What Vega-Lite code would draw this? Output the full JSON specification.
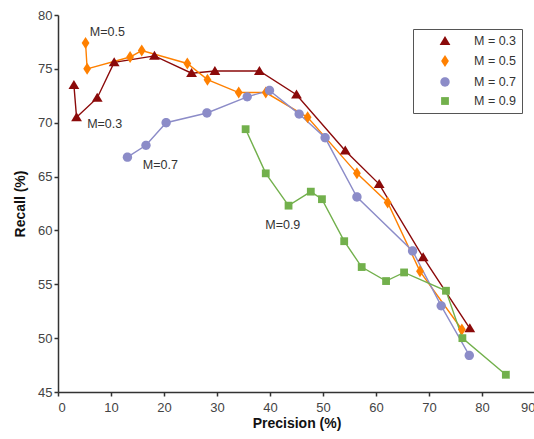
{
  "$schema": "https://vega.github.io/schema/vega-lite/v6.json",
  "width": 477,
  "height": 377,
  "autosize": "none",
  "padding": {"left": 58, "top": 15, "right": 0, "bottom": 47},
  "background": "white",
  "config": {
    "font": "Liberation Sans",
    "view": {"stroke": null},
    "axis": {
      "grid": false,
      "ticks": true,
      "domainColor": "#333",
      "domainWidth": 1.5,
      "tickColor": "#333",
      "tickWidth": 1.5,
      "tickSize": 4,
      "labelColor": "#444",
      "labelFontSize": 13,
      "labelFont": "Liberation Sans",
      "titleFont": "Liberation Sans",
      "titleFontSize": 14,
      "titleFontWeight": "bold",
      "titleColor": "#111"
    }
  },
  "datasets": {
    "pts": [
      {"series": "M = 0.3", "precision": 3.0, "recall": 73.5},
      {"series": "M = 0.3", "precision": 3.5, "recall": 70.5},
      {"series": "M = 0.3", "precision": 7.4, "recall": 72.3},
      {"series": "M = 0.3", "precision": 10.6, "recall": 75.6},
      {"series": "M = 0.3", "precision": 18.2, "recall": 76.2},
      {"series": "M = 0.3", "precision": 25.2, "recall": 74.6},
      {"series": "M = 0.3", "precision": 29.6, "recall": 74.8},
      {"series": "M = 0.3", "precision": 38.0, "recall": 74.8},
      {"series": "M = 0.3", "precision": 45.0, "recall": 72.6},
      {"series": "M = 0.3", "precision": 54.2, "recall": 67.4},
      {"series": "M = 0.3", "precision": 60.6, "recall": 64.3},
      {"series": "M = 0.3", "precision": 68.9, "recall": 57.5},
      {"series": "M = 0.3", "precision": 77.7, "recall": 50.9},
      {"series": "M = 0.5", "precision": 5.2, "recall": 77.4},
      {"series": "M = 0.5", "precision": 5.5, "recall": 75.0},
      {"series": "M = 0.5", "precision": 13.6, "recall": 76.1},
      {"series": "M = 0.5", "precision": 15.8, "recall": 76.7},
      {"series": "M = 0.5", "precision": 24.4, "recall": 75.5},
      {"series": "M = 0.5", "precision": 28.2, "recall": 74.0},
      {"series": "M = 0.5", "precision": 34.1, "recall": 72.8},
      {"series": "M = 0.5", "precision": 39.2, "recall": 72.8},
      {"series": "M = 0.5", "precision": 47.1, "recall": 70.5},
      {"series": "M = 0.5", "precision": 56.4, "recall": 65.3},
      {"series": "M = 0.5", "precision": 62.2, "recall": 62.6},
      {"series": "M = 0.5", "precision": 68.3, "recall": 56.2},
      {"series": "M = 0.5", "precision": 76.2, "recall": 50.8},
      {"series": "M = 0.7", "precision": 13.1, "recall": 66.8},
      {"series": "M = 0.7", "precision": 16.6, "recall": 67.9},
      {"series": "M = 0.7", "precision": 20.4, "recall": 70.0},
      {"series": "M = 0.7", "precision": 28.1, "recall": 70.9},
      {"series": "M = 0.7", "precision": 35.7, "recall": 72.4},
      {"series": "M = 0.7", "precision": 39.9, "recall": 73.0},
      {"series": "M = 0.7", "precision": 45.5, "recall": 70.8},
      {"series": "M = 0.7", "precision": 50.4, "recall": 68.6},
      {"series": "M = 0.7", "precision": 56.4, "recall": 63.1},
      {"series": "M = 0.7", "precision": 66.9, "recall": 58.1},
      {"series": "M = 0.7", "precision": 72.3, "recall": 53.0},
      {"series": "M = 0.7", "precision": 77.6, "recall": 48.4},
      {"series": "M = 0.9", "precision": 35.4, "recall": 69.4},
      {"series": "M = 0.9", "precision": 39.2, "recall": 65.3},
      {"series": "M = 0.9", "precision": 43.5, "recall": 62.3},
      {"series": "M = 0.9", "precision": 47.7, "recall": 63.6},
      {"series": "M = 0.9", "precision": 49.8, "recall": 62.9},
      {"series": "M = 0.9", "precision": 54.0, "recall": 59.0},
      {"series": "M = 0.9", "precision": 57.3, "recall": 56.6},
      {"series": "M = 0.9", "precision": 61.9, "recall": 55.3},
      {"series": "M = 0.9", "precision": 65.3, "recall": 56.1},
      {"series": "M = 0.9", "precision": 73.2, "recall": 54.4},
      {"series": "M = 0.9", "precision": 76.3, "recall": 50.0},
      {"series": "M = 0.9", "precision": 84.5, "recall": 46.6}
    ],
    "notes": [
      {"label": "M=0.5", "precision": 6.0, "recall": 78.4},
      {"label": "M=0.3", "precision": 5.5, "recall": 69.9},
      {"label": "M=0.7", "precision": 16.0, "recall": 66.1},
      {"label": "M=0.9", "precision": 39.1, "recall": 60.5}
    ]
  },
  "layer": [
    {
      "data": {"name": "pts"},
      "mark": {"type": "line", "strokeWidth": 1.4},
      "encoding": {
        "x": {"field": "precision", "type": "quantitative", "scale": {"domain": [0, 90], "nice": false}, "axis": {"values": [0, 10, 20, 30, 40, 50, 60, 70, 80, 90], "title": "Precision (%)", "labelPadding": 5, "titlePadding": 2}},
        "y": {"field": "recall", "type": "quantitative", "scale": {"domain": [45, 80], "nice": false, "zero": false}, "axis": {"values": [45, 50, 55, 60, 65, 70, 75, 80], "title": "Recall (%)", "labelPadding": 2, "titlePadding": 10}},
        "stroke": {
          "field": "series", "type": "nominal", "title": null,
          "scale": {"domain": ["M = 0.3", "M = 0.5", "M = 0.7", "M = 0.9"], "range": ["#8B0A0A", "#FF8000", "#8C8CC8", "#72B04C"]},
          "legend": {
            "orient": "none",
            "legendX": 355,
            "legendY": 14,
            "padding": 5,
            "symbolOffset": 20,
            "labelOffset": 22,
            "rowPadding": 4,
            "symbolSize": 144,
            "symbolType": "M-3.7,0H3.7",
            "symbolStrokeWidth": 1.5,
            "labelFontSize": 12.5,
            "labelColor": "#333",
            "labelOpacity": 0,
            "labelFont": "Liberation Sans"
          }
        }
      }
    },
    {
      "data": {"name": "pts"},
      "mark": {"type": "point", "filled": true, "opacity": 1, "size": 144, "strokeWidth": 0},
      "encoding": {
        "x": {"field": "precision", "type": "quantitative"},
        "y": {"field": "recall", "type": "quantitative"},
        "fill": {"field": "series", "type": "nominal", "title": null, "scale": {"range": ["#8B0A0A", "#FF8000", "#8C8CC8", "#72B04C"]}},
        "shape": {
          "field": "series", "type": "nominal", "title": null,
          "scale": {"range": ["M0,-0.85L0.9,0.65H-0.9Z", "M0,-1L0.65,0L0,1L-0.65,0Z", "M-0.78,0A0.78,0.78 0 1,1 0.78,0A0.78,0.78 0 1,1 -0.78,0Z", "M-0.65,-0.65H0.65V0.65H-0.65Z"]},
          "legend": {
            "orient": "none",
            "legendX": 355,
            "legendY": 14,
            "strokeColor": "#555",
            "fillColor": "white",
            "padding": 5,
            "symbolOffset": 20,
            "labelOffset": 22,
            "rowPadding": 4,
            "symbolSize": 144,
            "labelFontSize": 12.5,
            "labelColor": "#333",
            "labelFont": "Liberation Sans",
            "encode": {
              "legend": {"update": {"strokeWidth": {"value": 1.5}}},
              "symbols": {"update": {"strokeWidth": {"value": 0}}}
            }
          }
        }
      }
    },
    {
      "data": {"name": "notes"},
      "mark": {"type": "text", "align": "left", "baseline": "middle", "fontSize": 12.5, "color": "#333", "font": "Liberation Sans"},
      "encoding": {
        "x": {"field": "precision", "type": "quantitative"},
        "y": {"field": "recall", "type": "quantitative"},
        "text": {"field": "label"}
      }
    }
  ]
}
